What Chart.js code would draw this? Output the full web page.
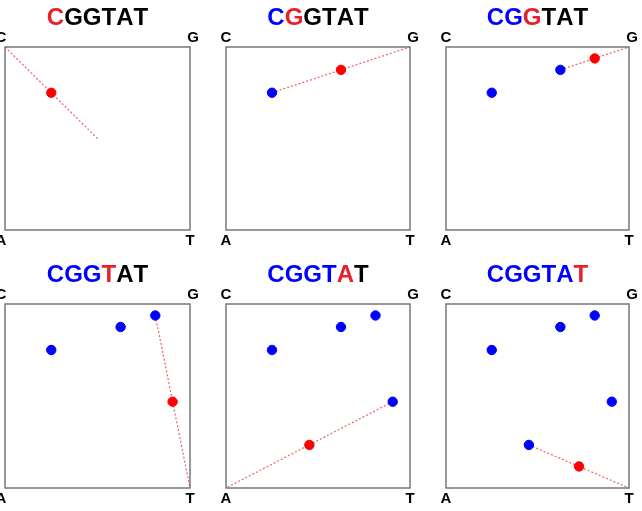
<!DOCTYPE html>
<html>
<head>
<meta charset="utf-8">
<script src="https://cdn.jsdelivr.net/npm/chart.js@4"></script>
<style>
  body { margin: 0; width: 642px; height: 511px; overflow: hidden; background: #fff; position: relative; }
  canvas { position: absolute; }
</style>
</head>
<body>
<script>
// sequence and chaos-game points
const seq = ['C', 'G', 'G', 'T', 'A', 'T'];
const pointX = [0.25, 0.625, 0.8125, 0.906, 0.453, 0.727];
const pointY = [0.75, 0.875, 0.9375, 0.469, 0.234, 0.117];
const startX = 0.5;
const startY = 0.5;
const cornerNames = ['A', 'C', 'G', 'T'];
const cornerX = [0, 0, 1, 1];
const cornerY = [0, 1, 1, 0];

// box positions of the six panels in the page (left, top, right, bottom)
const boxes = [
    [5, 47, 190, 230], [226, 47, 410, 230], [446, 47, 629, 230],
    [5, 304, 190, 488], [226, 304, 410, 488], [446, 304, 629, 488]
];
const PAD = { left: 25, top: 50, right: 25, bottom: 25 };

const BLUE = '#0000ff';
const RED = '#ff0000';
const TITLE_RED = '#e8202a';

const panelDecor = {
    id: 'panelDecor',
    afterDraw(chart, args, opts) {
        const ctx = chart.ctx;
        const a = chart.chartArea;
        ctx.save();
        // box
        ctx.strokeStyle = '#777';
        ctx.lineWidth = 1.5;
        ctx.strokeRect(a.left, a.top, a.right - a.left, a.bottom - a.top);
        // corner letters
        ctx.fillStyle = '#000';
        ctx.font = 'bold 15px "Liberation Sans", Arial, sans-serif';
        ctx.textAlign = 'center';
        ctx.textBaseline = 'middle';
        ctx.fillText('C', a.left - (opts.step % 3 == 0 ? 4 : 0), a.top - 9);
        ctx.fillText('G', a.right + 3, a.top - 9);
        ctx.fillText('A', a.left - (opts.step % 3 == 0 ? 4 : 0), a.bottom + 11);
        ctx.fillText('T', a.right, a.bottom + 11);
        // title, letters coloured by step
        ctx.font = 'bold 24px "Liberation Sans", Arial, sans-serif';
        ctx.textAlign = 'left';
        let total = 0;
        seq.forEach(s => total += ctx.measureText(s).width);
        let x = (a.left + a.right) / 2 - total / 2;
        seq.forEach((s, j) => {
            ctx.fillStyle = j < opts.step ? BLUE : (j == opts.step ? TITLE_RED : '#000');
            ctx.fillText(s, x, a.top - 29);
            x += ctx.measureText(s).width;
        });
        ctx.restore();
    }
};

boxes.forEach((b, i) => {
    let canvas = document.createElement('canvas');
    let w = b[2] - b[0] + PAD.left + PAD.right;
    let h = b[3] - b[1] + PAD.top + PAD.bottom;
    canvas.width = w;
    canvas.height = h;
    canvas.style.left = (b[0] - PAD.left) + 'px';
    canvas.style.top = (b[1] - PAD.top) + 'px';
    document.body.appendChild(canvas);

    let c = cornerNames.indexOf(seq[i]);
    let prev = i == 0 ? { x: startX, y: startY } : { x: pointX[i - 1], y: pointY[i - 1] };
    let blues = [];
    for (let j = 0; j < i; j++) blues.push({ x: pointX[j], y: pointY[j] });

    new Chart(canvas.getContext('2d'), {
        type: 'scatter',
        data: {
            datasets: [{
                data: [prev, { x: cornerX[c], y: cornerY[c] }],
                showLine: true,
                borderColor: '#f06a6a',
                borderWidth: 1.3,
                borderDash: [2, 2],
                pointRadius: 0,
                clip: false,
                order: 3
            }, {
                data: blues,
                backgroundColor: BLUE,
                borderColor: BLUE,
                pointRadius: 4.7,
                clip: false,
                order: 2
            }, {
                data: [{ x: pointX[i], y: pointY[i] }],
                backgroundColor: RED,
                borderColor: RED,
                pointRadius: 4.7,
                clip: false,
                order: 1
            }]
        },
        options: {
            responsive: false,
            animation: false,
            layout: { padding: PAD },
            scales: {
                x: { type: 'linear', min: 0, max: 1, display: false },
                y: { type: 'linear', min: 0, max: 1, display: false }
            },
            plugins: {
                legend: { display: false },
                tooltip: { enabled: false },
                panelDecor: { step: i }
            }
        },
        plugins: [panelDecor]
    });
});
</script>
</body>
</html>
